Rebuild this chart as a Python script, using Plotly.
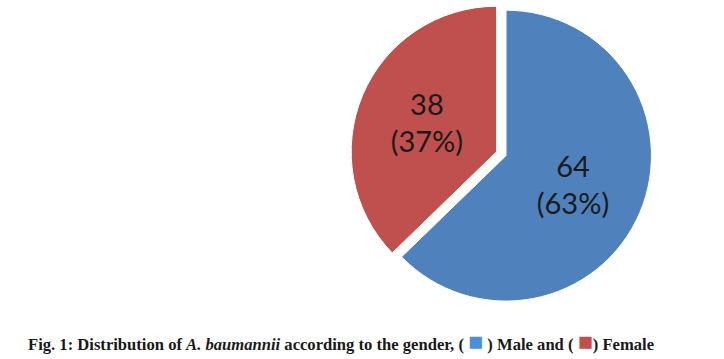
import plotly.graph_objects as go

labels = ["Male", "Female"]
values = [64, 38]
colors = ["#4F81BD", "#C0504D"]
pulls = [0, 0.07]

fig = go.Figure(go.Pie(
    labels=labels,
    values=values,
    sort=False,
    direction="clockwise",
    rotation=0,
    pull=pulls,
    marker=dict(colors=colors, line=dict(color="white", width=1)),
    texttemplate="%{value}<br>(%{percent:.0%})",
    textposition="inside",
    insidetextorientation="horizontal",
    textfont=dict(family="Lato, Open Sans, sans-serif", size=29, color="#1a1a1a"),
    domain=dict(x=[346/724, 666/724], y=[0.133, 1.0]),
    hoverinfo="label+value+percent",
    showlegend=False,
))

sq = "<span style='font-size:25px;color:{c}'>■</span>"
caption = ("Fig. 1: Distribution of <i>A. baumannii</i> according to the gender, ( "
           + sq.format(c="#4A90D9") + " ) Male and ( "
           + sq.format(c="#C0504D") + ") Female")

fig.add_annotation(
    text="<b>" + caption + "</b>",
    x=26/724, y=(359-341)/359, xref="paper", yref="paper",
    xanchor="left", yanchor="middle", showarrow=False,
    font=dict(family="Liberation Serif, DejaVu Serif, serif", size=16.6, color="#1a1a1a"),
)

fig.update_layout(
    width=724, height=359,
    margin=dict(l=0, r=0, t=0, b=0),
    paper_bgcolor="white", plot_bgcolor="white",
)

fig.write_html("out.html")
